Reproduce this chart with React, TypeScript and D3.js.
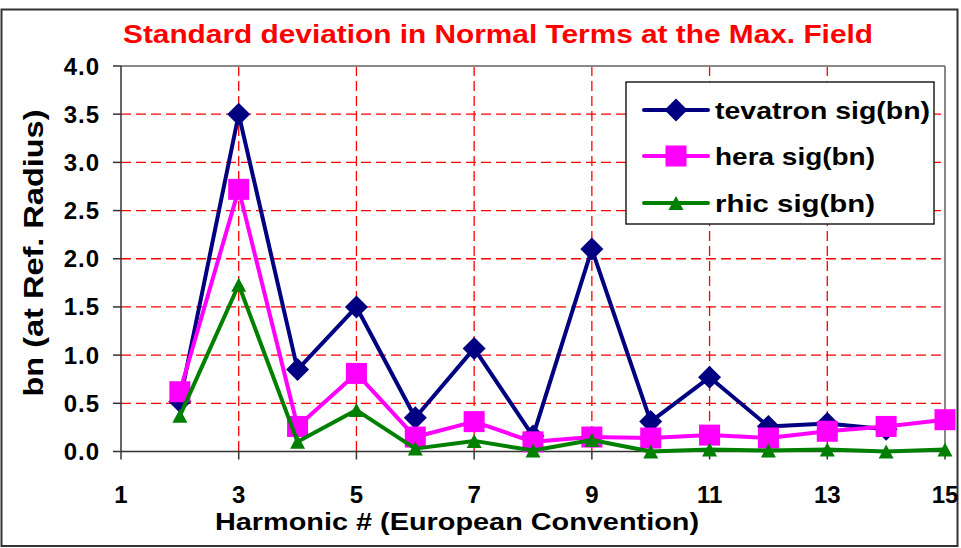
import React from "react";
import * as d3 from "d3";

const titleText = "Standard deviation in Normal Terms at the Max. Field";
const xTitle = "Harmonic # (European Convention)";
const yTitle = "bn (at Ref. Radius)";

const harmonics = [2, 3, 4, 5, 6, 7, 8, 9, 10, 11, 12, 13, 14, 15];
const tevatron = [0.52, 3.5, 0.85, 1.5, 0.35, 1.07, 0.16, 2.1, 0.31, 0.77, 0.26, 0.29, 0.23];
const hera = [0.62, 2.72, 0.26, 0.81, 0.15, 0.31, 0.1, 0.15, 0.14, 0.17, 0.14, 0.21, 0.26, 0.33];
const rhic = [0.37, 1.73, 0.1, 0.43, 0.03, 0.11, 0.01, 0.12, 0.0, 0.02, 0.01, 0.02, 0.0, 0.02];

const xTicks = [1, 3, 5, 7, 9, 11, 13, 15];
const yTicks = [0, 0.5, 1, 1.5, 2, 2.5, 3, 3.5, 4];

const seriesNames = ["tevatron sig(bn)", "hera sig(bn)", "rhic sig(bn)"];
const seriesColors = ["#000080", "#FF00FF", "#008000"];
const seriesShapes = ["diamond", "square", "triangle"];

const FONT = "'Liberation Sans', Arial, Helvetica, sans-serif";

function Marker({ shape, x, y, color }: { shape: string; x: number; y: number; color: string }) {
  if (shape === "diamond") {
    const r = 11.5;
    return <path d={`M${x},${y - r}L${x + r},${y}L${x},${y + r}L${x - r},${y}Z`} fill={color} />;
  }
  if (shape === "square") {
    const s = 21;
    return <rect x={x - s / 2} y={y - s / 2} width={s} height={s} fill={color} />;
  }
  const w = 15, h = 14;
  return <path d={`M${x},${y - h / 2}L${x + w / 2},${y + h / 2}L${x - w / 2},${y + h / 2}Z`} fill={color} />;
}

export default function App() {
  const width = 961, height = 548;
  const x = d3.scaleLinear().domain([1, 15]).range([121, 945]);
  const y = d3.scaleLinear().domain([0, 4]).range([451.5, 66]);

  const allSeries = [tevatron, hera, rhic].map((vals) =>
    vals.map((v, i) => ({ h: harmonics[i], v }))
  );
  const line = d3
    .line<{ h: number; v: number }>()
    .x((d) => x(d.h))
    .y((d) => y(d.v));

  const legendX = 626, legendY = 82, legendW = 308, legendH = 142;
  const legendRows = [110, 156, 203];

  return (
    <svg
      width={width}
      height={height}
      style={{ position: "absolute", left: 0, top: 0, background: "#fff" }}
      fontFamily={FONT}
    >
      <rect x={0} y={0} width={width} height={height} fill="#fff" />
      <rect x={1.5} y={9.5} width={956} height={536.5} fill="none" stroke="#333" strokeWidth={2} />

      <text
        x={498}
        y={43}
        textAnchor="middle"
        fontSize={26}
        fontWeight="bold"
        fill="#FF0000"
        textLength={750}
        lengthAdjust="spacingAndGlyphs"
      >
        {titleText}
      </text>

      {/* gridlines */}
      {yTicks.slice(1, -1).map((t) => (
        <line
          key={"gy" + t}
          x1={x(1)}
          x2={x(15)}
          y1={y(t)}
          y2={y(t)}
          stroke="#FF0000"
          strokeWidth={1.3}
          strokeDasharray="10,5"
        />
      ))}
      {xTicks.slice(1, -1).map((t) => (
        <line
          key={"gx" + t}
          x1={x(t)}
          x2={x(t)}
          y1={y(4)}
          y2={y(0)}
          stroke="#FF0000"
          strokeWidth={1.3}
          strokeDasharray="10,5"
        />
      ))}

      {/* plot area border top/right */}
      <line x1={x(1)} x2={x(15)} y1={y(4)} y2={y(4)} stroke="#888" strokeWidth={2} />
      <line x1={x(15)} x2={x(15)} y1={y(4)} y2={y(0)} stroke="#888" strokeWidth={2} />

      {/* axes */}
      <line x1={x(1)} x2={x(1)} y1={y(4)} y2={y(0)} stroke="#333" strokeWidth={1.5} />
      <line x1={x(1)} x2={x(15)} y1={y(0)} y2={y(0)} stroke="#333" strokeWidth={1.5} />
      {yTicks.map((t) => (
        <g key={"yt" + t}>
          <line x1={x(1) - 8} x2={x(1)} y1={y(t)} y2={y(t)} stroke="#333" strokeWidth={1.5} />
          <text
            x={100}
            y={y(t) + 8.5}
            textAnchor="end"
            fontSize={24}
            fontWeight="bold"
            fill="#000"
            letterSpacing={1}
          >
            {t.toFixed(1)}
          </text>
        </g>
      ))}
      {xTicks.map((t) => (
        <g key={"xt" + t}>
          <line x1={x(t)} x2={x(t)} y1={y(0)} y2={y(0) + 8} stroke="#333" strokeWidth={1.5} />
          <text x={x(t)} y={503} textAnchor="middle" fontSize={24} fontWeight="bold" fill="#000">
            {t}
          </text>
        </g>
      ))}

      <text
        x={457}
        y={530}
        textAnchor="middle"
        fontSize={24}
        fontWeight="bold"
        fill="#000"
        textLength={484}
        lengthAdjust="spacingAndGlyphs"
      >
        {xTitle}
      </text>
      <text
        transform="translate(43,253) rotate(-90)"
        textAnchor="middle"
        fontSize={28}
        fontWeight="bold"
        fill="#000"
        textLength={287}
        lengthAdjust="spacingAndGlyphs"
      >
        {yTitle}
      </text>

      {/* series */}
      {allSeries.map((pts, si) => (
        <g key={"s" + si}>
          <path d={line(pts) || ""} fill="none" stroke={seriesColors[si]} strokeWidth={4} strokeLinejoin="round" />
          {pts.map((p, i) => (
            <Marker key={i} shape={seriesShapes[si]} x={x(p.h)} y={y(p.v)} color={seriesColors[si]} />
          ))}
        </g>
      ))}

      {/* legend */}
      <rect x={legendX} y={legendY} width={legendW} height={legendH} fill="#fff" stroke="#222" strokeWidth={1.5} />
      {seriesNames.map((name, i) => (
        <g key={"lg" + i}>
          <line
            x1={644}
            x2={708}
            y1={legendRows[i]}
            y2={legendRows[i]}
            stroke={seriesColors[i]}
            strokeWidth={4}
            strokeLinecap="round"
          />
          <Marker shape={seriesShapes[i]} x={676} y={legendRows[i]} color={seriesColors[i]} />
          <text
            x={715}
            y={legendRows[i] + 8.5}
            fontSize={24}
            fontWeight="bold"
            fill="#000"
            textLength={[215, 160, 160][i]}
            lengthAdjust="spacingAndGlyphs"
          >
            {name}
          </text>
        </g>
      ))}
    </svg>
  );
}
